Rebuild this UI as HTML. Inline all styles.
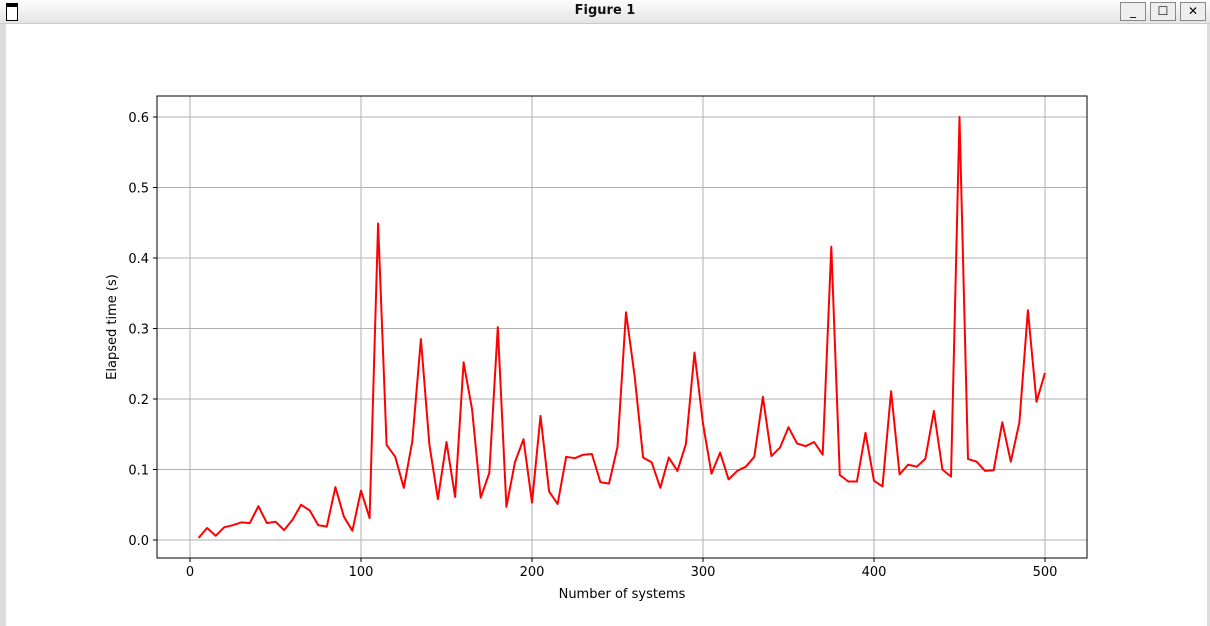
<!DOCTYPE html>
<html><head><meta charset="utf-8">
<style>
html,body{margin:0;padding:0;width:1210px;height:626px;overflow:hidden;background:#fff;font-family:"DejaVu Sans","Liberation Sans",sans-serif;}
#titlebar{position:absolute;left:0;top:0;width:1210px;height:23px;background:linear-gradient(#fdfdfd,#e4e4e4);border-bottom:1px solid #ccc;}
#title{position:absolute;left:0;width:1210px;top:3px;text-align:center;font-size:13px;font-weight:bold;color:#111;}
.btn{position:absolute;top:2px;width:24px;height:17px;border:1px solid #888;background:#eee;font-size:12px;text-align:center;line-height:17px;}
#frame{position:absolute;left:0;top:24px;width:6px;height:602px;background:#ddd;}
#frame-r{position:absolute;right:0;top:24px;width:3px;height:602px;background:#ddd;}
</style></head><body>
<div id="titlebar">
 <div style="position:absolute;left:6px;top:3px;width:10px;height:13px;border:1px solid #000;border-top:4px solid #000;background:#fff"></div>
 <div id="title">Figure 1</div>
 <div class="btn" style="left:1120px">_</div>
 <div class="btn" style="left:1150px">☐</div>
 <div class="btn" style="left:1180px">✕</div>
</div>
<div id="frame"></div>
<div id="frame-r"></div>
<svg id="chart" width="1210" height="626" style="position:absolute;left:0;top:0"></svg>
<script>
const xValues = [5,10,15,20,25,30,35,40,45,50,55,60,65,70,75,80,85,90,95,100,105,110,115,120,125,130,135,140,145,150,155,160,165,170,175,180,185,190,195,200,205,210,215,220,225,230,235,240,245,250,255,260,265,270,275,280,285,290,295,300,305,310,315,320,325,330,335,340,345,350,355,360,365,370,375,380,385,390,395,400,405,410,415,420,425,430,435,440,445,450,455,460,465,470,475,480,485,490,495,500];
const elapsed = [0.003,0.017,0.006,0.018,0.021,0.025,0.024,0.048,0.024,0.026,0.014,0.029,0.050,0.042,0.021,0.019,0.075,0.033,0.013,0.070,0.031,0.449,0.135,0.118,0.074,0.140,0.285,0.135,0.058,0.139,0.061,0.252,0.185,0.060,0.095,0.302,0.047,0.110,0.143,0.053,0.176,0.069,0.051,0.118,0.116,0.121,0.122,0.082,0.080,0.132,0.323,0.233,0.117,0.110,0.074,0.117,0.098,0.136,0.266,0.165,0.094,0.124,0.086,0.098,0.104,0.118,0.203,0.119,0.131,0.160,0.137,0.133,0.139,0.121,0.416,0.092,0.083,0.083,0.152,0.084,0.076,0.211,0.093,0.107,0.104,0.115,0.183,0.100,0.090,0.600,0.115,0.111,0.098,0.099,0.167,0.111,0.167,0.326,0.196,0.237];
const xTicks = [0,100,200,300,400,500];
const yTicks = [0.0,0.1,0.2,0.3,0.4,0.5,0.6];
const yTickLabels = ["0.0","0.1","0.2","0.3","0.4","0.5","0.6"];

const svg = document.getElementById('chart');
const NS = 'http://www.w3.org/2000/svg';
const L=157,R=1087,T=96,B=558;
const xS = v => 190 + (v-0)*(1045-190)/500;
const yS = v => 540 - v*(540-117)/0.6;
function mk(tag, attrs){const e=document.createElementNS(NS,tag);for(const k in attrs)e.setAttribute(k,attrs[k]);svg.appendChild(e);return e;}

xTicks.forEach(t=>{
  const g=mk('line',{x1:xS(t),x2:xS(t),y1:T,y2:B,stroke:'#b0b0b0','stroke-width':1});
  
  
  const tk=mk('line',{x1:xS(t),x2:xS(t),y1:B,y2:B+4,stroke:'#000'});
  
  
  const tx=mk('text',{x:xS(t),y:B+18,'text-anchor':'middle','font-size':13,'font-family':'DejaVu Sans, Liberation Sans, sans-serif'});
  tx.textContent=t;
  
  
});
yTicks.forEach((t,i)=>{
  const g=mk('line',{x1:L,x2:R,y1:yS(t),y2:yS(t),stroke:'#b0b0b0','stroke-width':1});
  
  
  const tk=mk('line',{x1:L-4,x2:L,y1:yS(t),y2:yS(t),stroke:'#000'});
  
  
  const tx=mk('text',{x:L-8,y:yS(t)+5,'text-anchor':'end','font-size':13,'font-family':'DejaVu Sans, Liberation Sans, sans-serif'});
  tx.textContent=yTickLabels[i];
  
  
});
const pts = xValues.map((x,i)=>xS(x).toFixed(1)+','+yS(elapsed[i]).toFixed(1)).join(' ');
const line=mk('polyline',{points:pts,fill:'none',stroke:'#ff0000','stroke-width':2,'stroke-linejoin':'round'});


const frame=mk('rect',{x:L,y:T,width:R-L,height:B-T,fill:'none',stroke:'#000','stroke-width':1});


const xl=mk('text',{x:(L+R)/2,y:598,'text-anchor':'middle','font-size':13,'font-family':'DejaVu Sans, Liberation Sans, sans-serif'});
xl.textContent='Number of systems';


const yl=mk('text',{x:0,y:0,'text-anchor':'middle','font-size':13,'font-family':'DejaVu Sans, Liberation Sans, sans-serif',transform:'translate(116,327) rotate(-90)'});
yl.textContent='Elapsed time (s)';


</script>
</body></html>
